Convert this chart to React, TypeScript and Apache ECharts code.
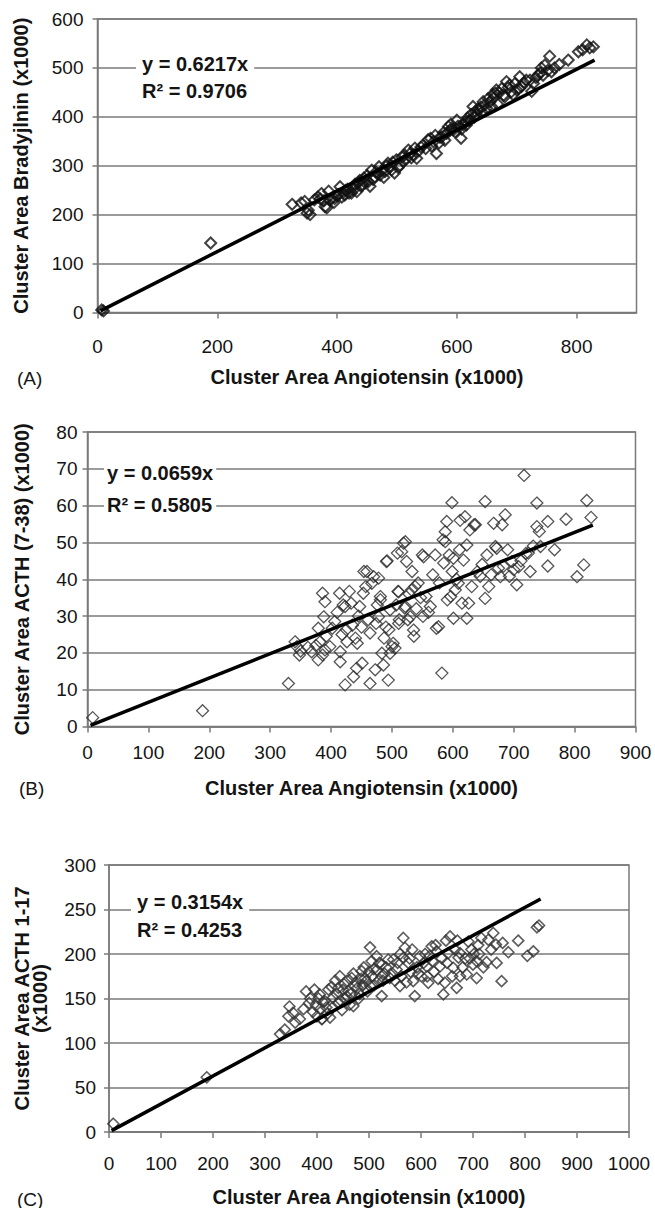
import React, { useEffect, useRef } from "react";
import * as echarts from "echarts";

// ---------- DATA ----------
const xTitle = "Cluster Area Angiotensin (x1000)";
const yTitles = [
  "Cluster Area Bradyjlnin (x1000)",
  "Cluster Area ACTH (7-38) (x1000)",
  "Cluster Area ACTH 1-17\n(x1000)",
];
const panelLabels = ["(A)", "(B)", "(C)"];
const slopes = [0.6217, 0.0659, 0.3154];
const slopeLabels = ["0.6217", "0.0659", "0.3154"];
const rSquared = ["0.9706", "0.5805", "0.4253"];
const trendRange = [5, 830];
const xMaxes = [900, 900, 1000];
const xIntervals = [200, 100, 100];
const yMaxes = [600, 80, 300];
const yIntervals = [100, 10, 50];

const bradykinin: number[][] = [
  [7, 5], [10, 3], [189, 142],
  [325, 221], [340, 224], [346, 227], [350, 203], [352, 209], [355, 200], [362, 230], [368, 236], [372, 232],
  [374, 243], [378, 228], [380, 216], [383, 214], [386, 248], [388, 230], [391, 233], [395, 225], [396, 233],
  [400, 238], [402, 241], [405, 257], [408, 236], [410, 245], [413, 240], [415, 250], [418, 252], [420, 244],
  [424, 244], [426, 255], [427, 250], [430, 262], [433, 247], [436, 266], [438, 270], [440, 258], [443, 261],
  [445, 275], [447, 265], [450, 280], [452, 267], [455, 258], [458, 291], [460, 272], [463, 277], [465, 287],
  [468, 283], [470, 298], [472, 281], [475, 290], [478, 276], [480, 288], [483, 300], [485, 305], [488, 296],
  [491, 291], [493, 307], [496, 285], [499, 312], [502, 296], [505, 301], [508, 318], [511, 309], [513, 322],
  [516, 314], [519, 332], [522, 325], [524, 316], [527, 322], [530, 336], [533, 315], [536, 330], [540, 338],
  [544, 342], [548, 335], [552, 353], [556, 356], [558, 340], [561, 349], [564, 362], [566, 325], [570, 346],
  [572, 358], [575, 359], [578, 368], [580, 352], [583, 366], [586, 380], [588, 372], [590, 385], [592, 376],
  [594, 373], [597, 369], [600, 393], [602, 381], [605, 380], [607, 356], [608, 375], [611, 384], [614, 390],
  [616, 383], [618, 398], [620, 392], [622, 393], [624, 405], [627, 421], [629, 399], [631, 411], [633, 404],
  [635, 416], [637, 414], [640, 420], [642, 410], [644, 431], [647, 425], [650, 417], [652, 437], [655, 430],
  [658, 421], [660, 446], [661, 438], [664, 448], [666, 455], [668, 426], [671, 449], [675, 458], [678, 444],
  [680, 441], [683, 472], [686, 460], [688, 465], [691, 451], [694, 445], [697, 468], [700, 455], [704, 458],
  [705, 482], [708, 462], [712, 470], [716, 475], [722, 475], [725, 452], [728, 468], [732, 480], [736, 486],
  [739, 489], [741, 500], [744, 485], [747, 506], [752, 495], [755, 524], [758, 492], [763, 500], [771, 507],
  [786, 516], [803, 533], [810, 537], [817, 547], [822, 541], [828, 543],
];

const acth738: number[][] = [
  [8.5, 2.4], [189, 4.3], [330, 11.7], [341, 23], [344, 21.7], [348, 19.4], [350, 20.5], [362, 21.5], [368, 20.3],
  [375, 22], [379, 18.1], [382, 23], [386, 19.4], [379, 26.7], [386, 36.2], [390, 33.9], [388, 29.8], [390, 20.8],
  [392, 24.5], [398, 21.7], [402, 26.7], [406, 28.5], [410, 31], [414, 36.2], [415, 17.6], [415, 20.3], [418, 25],
  [420, 33], [423, 32.6], [423, 11.3], [425, 26.3], [426, 23], [430, 36.7], [433, 33.5], [435, 27.5], [437, 13.5],
  [440, 24], [442, 15.8], [443, 22.6], [445, 30], [447, 32.6], [450, 27], [451, 17.2], [453, 36.2], [454, 42.1],
  [457, 38], [459, 42.1], [461, 29], [464, 11.7], [464, 25.4], [467, 38.9], [470, 40.7], [472.5, 15.4], [474, 28],
  [476, 33], [478, 29.8], [478, 40.3], [481, 35.3], [481, 34.4], [483.5, 19.9], [486, 16.7], [487, 24], [490, 27],
  [491, 44.8], [492, 45], [494, 12.6], [495, 26.3], [497, 31.7], [497, 19.9], [500, 21.7], [502, 22.6], [505, 21.3],
  [507, 33], [509, 47.1], [510, 36.7], [511, 36.6], [511, 28], [512, 29], [516, 47.5], [519, 49.8], [521, 32.2],
  [522, 50.2], [522, 32.6], [524, 44.8], [526, 29], [528, 36], [530, 29.8], [532, 37.1], [533, 42.1], [535.5, 26.2],
  [536, 24.5], [538, 38], [540, 32], [543, 39], [547, 35], [550, 46.6], [552, 46.1], [551, 29.9], [556, 35.3],
  [560, 31], [563, 32.6], [567, 41.2], [571, 46.6], [573, 26.7], [576.5, 27.1], [578, 39], [582, 14.5], [584, 50.7],
  [585, 44.4], [587.5, 52.9], [587.5, 50.2], [590, 55.7], [591, 34.4], [594, 46.6], [596.5, 35.3], [598.5, 60.8],
  [599, 42.1], [601, 45.7], [601, 29.4], [604, 37.1], [606, 40], [609, 38.9], [611, 48], [612, 56], [615, 33.5],
  [617.5, 45.2], [620, 57], [623, 49.3], [623, 29.4], [626, 33.5], [628, 53.4], [631, 38], [635, 54.8], [637, 54.8],
  [640, 42], [645, 40.8], [648, 44], [653, 61.1], [653, 34.8], [656, 46.6], [659, 38], [663, 41.2], [667, 55.2],
  [670, 48.9], [672, 48.4], [675, 43], [678, 40.7], [681, 54.8], [683, 43.5], [686, 57.5], [690, 48], [693, 40.8],
  [697, 44.8], [700, 42.6], [705, 38.5], [708, 43.4], [712, 45], [717, 68.2], [720, 47], [724, 47.1], [727, 42.1],
  [732, 49], [738, 60.7], [738, 54.3], [742, 53], [744, 48.9], [756, 43.6], [756, 55.7], [767, 48], [786, 56.3],
  [804, 40.7], [815, 43.9], [820, 61.4], [827, 56.8],
];

const acth117: number[][] = [
  [8.3, 9.3], [188, 61.5], [329, 110], [338, 115], [345, 130], [347, 141], [354, 134], [358, 123], [367, 127],
  [374, 138], [379, 158], [385, 145], [387, 150], [392, 135], [395, 160], [398, 142], [400, 130], [403, 150],
  [405, 154.6], [406, 138], [409, 126.7], [410, 127], [412, 146], [415, 147], [418, 140], [420, 133], [422, 160],
  [425, 128.6], [428, 163], [430, 140], [431, 151], [435, 170], [438, 155], [440, 145], [441, 162], [444, 175],
  [445, 148], [448, 137], [450, 160], [452, 166], [455, 150], [457, 152.7], [458, 170], [460, 158], [463, 143],
  [465, 155], [466.7, 173], [470, 141.5], [470, 178], [473, 164], [475, 168], [478, 162], [480, 150], [482, 155],
  [485, 172], [486, 180.7], [488, 165], [490, 185], [492, 173], [495, 170], [497, 158], [500, 180], [502, 207.5],
  [502, 164], [505, 192], [506, 175], [509, 183], [510, 165], [514.8, 197.5], [515, 182], [518, 170], [520, 190],
  [524.4, 152.7], [524.4, 175], [524.4, 188], [527, 170], [530, 178], [533, 185], [537, 193.8], [540, 173],
  [545, 178], [546.7, 193.8], [550, 170], [553, 182.6], [555, 190], [559.6, 164], [560, 200], [562, 175],
  [566, 218], [566, 195.7], [569, 207], [572, 168], [575.6, 190], [578, 195], [580, 180], [583, 205], [585, 169.5],
  [588, 152.7], [592, 185], [595, 178], [598, 197.5], [601, 175], [605, 190], [608, 200], [611, 186], [612, 175],
  [614, 167.7], [617, 198], [620.6, 208.6], [622, 192], [625, 180], [628, 210], [630, 203], [633, 172],
  [636.5, 186], [640, 195], [643, 154.6], [646, 167.7], [648, 215], [650, 190], [652.5, 201], [655.8, 219.8],
  [660, 175], [662, 184.5], [665, 205], [668.6, 162], [670, 215], [672, 196], [675, 175], [675, 201], [680, 185],
  [685, 195], [688, 177], [691, 214], [694, 195], [697, 205], [700, 188], [702, 200], [707, 173], [707, 192],
  [710, 210], [712, 200], [716, 218], [720, 185], [726, 190.8], [729.5, 216], [735, 205], [739, 223.6],
  [744, 210.6], [745.5, 190], [755, 169.5], [757, 212.5], [768, 202], [787, 215], [804.5, 198], [816, 203],
  [823, 230], [827, 232],
];

const panelData = [bradykinin, acth738, acth117];

// ---------- LAYOUT / STYLE ----------
const FONT = "'Liberation Sans', Arial, Helvetica, sans-serif";
const TEXT = "#141414";
const GRID_C = "#7a7a7a";

const grids = [
  { left: 97.5, top: 19, width: 539, height: 293.4 },
  { left: 87.5, top: 432, width: 548, height: 294.5 },
  { left: 109, top: 865, width: 520, height: 268.3 },
];
const xLabelMargin = [25, 16, 22];
const yLabelMargin = [14, 10, 13];
const xNameGap = [55, 51, 55];
const yNameGap = [68, 57, 60];
const markerStyle = [
  { size: 11, width: 2, color: "#111" },
  { size: 12, width: 1.3, color: "#2a2a2a" },
  { size: 11, width: 1.6, color: "#333" },
];
const eqBoxes = [
  { x: 136, y: 48, lh: 27, pad: [2, 6] },
  { x: 104, y: 455, lh: 32, pad: [2, 3] },
  { x: 131, y: 886, lh: 28, pad: [2, 6] },
];
const labelPos = [
  { x: 17, y: 378 },
  { x: 19, y: 788 },
  { x: 17, y: 1199 },
];

export default function App() {
  const ref = useRef<HTMLDivElement>(null);
  useEffect(() => {
    document.body.style.margin = "0";
    if (!ref.current) return;
    const chart = echarts.init(ref.current, undefined, { renderer: "svg" });

    const xAxis = grids.map((_, i) => ({
      type: "value",
      gridIndex: i,
      min: 0,
      max: xMaxes[i],
      interval: xIntervals[i],
      name: xTitle,
      nameLocation: "middle",
      nameGap: xNameGap[i],
      nameTextStyle: { fontFamily: FONT, fontSize: 20, fontWeight: "bold", color: TEXT },
      axisLine: { show: true, lineStyle: { color: GRID_C, width: 1.5 } },
      axisTick: { show: true, length: 6, lineStyle: { color: GRID_C, width: 1.5 } },
      axisLabel: {
        fontFamily: FONT,
        fontSize: 19,
        color: TEXT,
        margin: xLabelMargin[i],
        formatter: (v: number) => String(v),
        showMaxLabel: xMaxes[i] % xIntervals[i] === 0,
      },
      splitLine: { show: false },
    }));
    const yAxis = grids.map((_, i) => ({
      type: "value",
      gridIndex: i,
      min: 0,
      max: yMaxes[i],
      interval: yIntervals[i],
      name: yTitles[i],
      nameLocation: "middle",
      nameGap: yNameGap[i],
      nameTextStyle: { fontFamily: FONT, fontSize: 20, fontWeight: "bold", color: TEXT, lineHeight: 18 },
      axisLine: { show: true, lineStyle: { color: GRID_C, width: 1.5 } },
      axisTick: { show: true, length: 5, lineStyle: { color: GRID_C, width: 1.5 } },
      axisLabel: { fontFamily: FONT, fontSize: 19, color: TEXT, margin: yLabelMargin[i], formatter: (v: number) => String(v) },
      splitLine: { show: true, lineStyle: { color: GRID_C, width: 1.5 } },
    }));

    const series: any[] = [];
    panelData.forEach((d, i) => {
      series.push({
        type: "scatter",
        xAxisIndex: i,
        yAxisIndex: i,
        data: d,
        symbol: "diamond",
        symbolSize: markerStyle[i].size,
        itemStyle: { color: "rgba(0,0,0,0)", borderColor: markerStyle[i].color, borderWidth: markerStyle[i].width },
        z: 3,
      });
      series.push({
        type: "line",
        xAxisIndex: i,
        yAxisIndex: i,
        data: trendRange.map((x) => [x, slopes[i] * x]),
        symbol: "none",
        lineStyle: { color: "#000", width: 3.5 },
        z: 5,
      });
    });

    const graphic: any[] = [];
    eqBoxes.forEach((b, i) => {
      graphic.push({
        type: "text",
        x: b.x,
        y: b.y,
        z: 100,
        style: {
          text: `y = ${slopeLabels[i]}x\nR² = ${rSquared[i]}`,
          fontFamily: FONT,
          fontSize: 20,
          fontWeight: "bold",
          fill: TEXT,
          lineHeight: b.lh,
          backgroundColor: "#fff",
          padding: b.pad,
          align: "left",
          verticalAlign: "top",
        },
      });
    });
    labelPos.forEach((p, i) => {
      graphic.push({
        type: "text",
        x: p.x,
        y: p.y,
        z: 100,
        style: {
          text: panelLabels[i],
          fontFamily: FONT,
          fontSize: 19,
          fill: TEXT,
          align: "left",
          verticalAlign: "middle",
        },
      });
    });

    chart.setOption({
      animation: false,
      backgroundColor: "#fff",
      grid: grids.map((g) => ({ ...g, show: true, borderColor: GRID_C, borderWidth: 1.5, backgroundColor: "#fff" })),
      xAxis,
      yAxis,
      series,
      graphic,
    });
    return () => chart.dispose();
  }, []);
  return <div ref={ref} style={{ width: 655, height: 1208 }} />;
}
